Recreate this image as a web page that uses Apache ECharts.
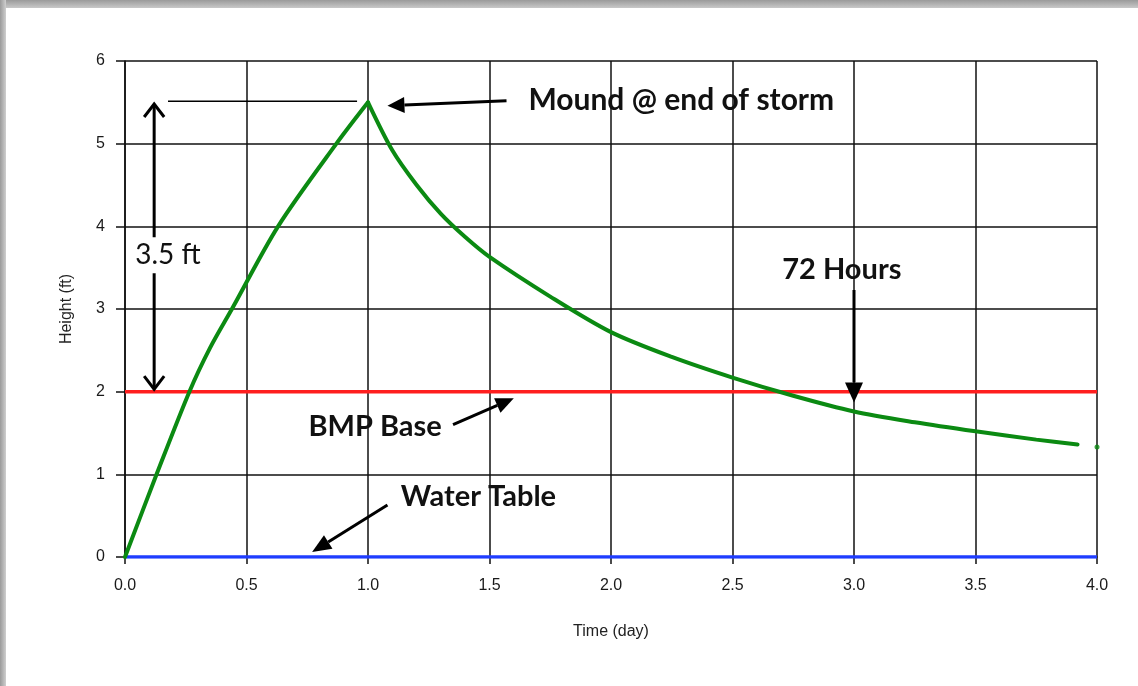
<!DOCTYPE html>
<html>
<head>
<meta charset="utf-8">
<script src="https://cdn.jsdelivr.net/npm/echarts@6/dist/echarts.min.js"></script>
<style>
html,body{margin:0;padding:0;background:#fff;}
#c{width:1138px;height:686px;}
</style>
</head>
<body>
<div id="c"></div>
<script>
// ---- data ----
const riseTime    = [0, 0.13, 0.265, 0.35, 0.44, 0.63, 0.87, 1.0];
const riseHeight  = [0, 1.0, 2.0, 2.53, 3.0, 4.0, 5.0, 5.5];
const decayTime   = [1.0, 1.1, 1.2, 1.3, 1.4, 1.5, 1.75, 2.0, 2.25, 2.5, 2.75, 3.0, 3.25, 3.5, 3.75, 3.92];
const decayHeight = [5.5, 4.92, 4.5, 4.15, 3.87, 3.63, 3.15, 2.72, 2.42, 2.17, 1.95, 1.76, 1.63, 1.52, 1.42, 1.36];
const endPoint = [4.0, 1.33];
const bmpBaseLevel = 2;
const waterTableLevel = 0;
const xTicks = [0, 0.5, 1.0, 1.5, 2.0, 2.5, 3.0, 3.5, 4.0];
const yTicks = [0, 1, 2, 3, 4, 5, 6];

const chart = echarts.init(document.getElementById('c'));
const axisFont = '"Liberation Sans", Arial, sans-serif';
const noteFont = 'Lato, "Open Sans", sans-serif';

const option = {
  animation: false,
  backgroundColor: '#fff',
  grid: {left: 125, right: 41, top: 61, bottom: 129},
  xAxis: {
    type: 'value', min: 0, max: 4, interval: 0.5,
    name: 'Time (day)', nameLocation: 'middle', nameGap: 67,
    nameTextStyle: {fontFamily: axisFont, fontSize: 16, color: '#222'},
    axisLine: {show: true, onZero: false, lineStyle: {color: '#111', width: 1.5}},
    axisTick: {show: true, length: 7, lineStyle: {color: '#111', width: 1.5}},
    axisLabel: {margin: 21, fontFamily: axisFont, fontSize: 16, color: '#1a1a1a',
                formatter: v => v.toFixed(1)},
    splitLine: {show: true, lineStyle: {color: '#111', width: 1.5}}
  },
  yAxis: {
    type: 'value', min: 0, max: 6, interval: 1,
    name: 'Height (ft)', nameLocation: 'middle', nameGap: 50, nameRotate: 90,
    nameTextStyle: {fontFamily: axisFont, fontSize: 16, color: '#222'},
    axisLine: {show: true, lineStyle: {color: '#111', width: 1.5}},
    axisTick: {show: true, length: 9, lineStyle: {color: '#111', width: 1.5}},
    axisLabel: {margin: 20, fontFamily: axisFont, fontSize: 16, color: '#1a1a1a'},
    splitLine: {show: true, lineStyle: {color: '#111', width: 1.5}}
  },
  series: [
    {type: 'line', name: 'Water Table', data: [[0, waterTableLevel], [4, waterTableLevel]],
     symbol: 'none', lineStyle: {color: '#1f3dff', width: 3.5}, z: 3},
    {type: 'line', name: 'BMP Base', data: [[0, bmpBaseLevel], [4, bmpBaseLevel]],
     symbol: 'none', lineStyle: {color: '#ff1e1e', width: 3.5}, z: 3},
    {type: 'line', name: 'Mound rise', data: riseTime.map((t, i) => [t, riseHeight[i]]),
     symbol: 'none', smooth: 0.3, lineStyle: {color: '#0b8a12', width: 4, cap: 'round'}, z: 4},
    {type: 'line', name: 'Mound decay', data: decayTime.map((t, i) => [t, decayHeight[i]]),
     symbol: 'none', smooth: 0.3, lineStyle: {color: '#0b8a12', width: 4, cap: 'round'}, z: 4},
    {type: 'scatter', data: [endPoint], symbolSize: 5,
     itemStyle: {color: '#0b8a12'}, z: 4}
  ]
};
chart.setOption(option);

function P(x, y) { return chart.convertToPixel({gridIndex: 0}, [x, y]); }

function filledArrow(from, to, head, width) {
  const [x1, y1] = from, [x2, y2] = to;
  const dx = x2 - x1, dy = y2 - y1, L = Math.hypot(dx, dy);
  const ux = dx / L, uy = dy / L, nx = -uy, ny = ux;
  const bx = x2 - ux * head, by = y2 - uy * head;
  return [
    {type: 'line', shape: {x1, y1, x2: bx, y2: by}, style: {stroke: '#000', lineWidth: 3}, z: 20},
    {type: 'polygon', shape: {points: [[x2, y2], [bx + nx * width, by + ny * width], [bx - nx * width, by - ny * width]]},
     style: {fill: '#000'}, z: 20}
  ];
}

function openHead(tip, dir) { // dir: -1 up, +1 down
  const [x, y] = tip;
  return {type: 'polyline', shape: {points: [[x - 10, y - dir * 13], [x, y], [x + 10, y - dir * 13]]},
          style: {stroke: '#000', lineWidth: 3, fill: null}, z: 20};
}

function buildGraphics() {
  const g = [];
  // frame shadow
  g.push({type: 'rect', shape: {x: 0, y: 0, width: 1138, height: 8},
    style: {fill: new echarts.graphic.LinearGradient(0, 0, 0, 1, [{offset: 0, color: '#9a9a9a'}, {offset: 1, color: '#c8c8c8'}])}, z: 30});
  g.push({type: 'rect', shape: {x: 0, y: 0, width: 6, height: 686},
    style: {fill: new echarts.graphic.LinearGradient(0, 0, 1, 0, [{offset: 0, color: '#9a9a9a'}, {offset: 1, color: '#cfcfcf'}])}, z: 31});

  // peak reference line
  const a = P(0.177, 5.5), b = P(0.955, 5.5);
  g.push({type: 'line', shape: {x1: a[0], y1: a[1] - 1, x2: b[0], y2: b[1] - 1}, style: {stroke: '#000', lineWidth: 1.5}, z: 20});

  // 3.5 ft double arrow
  const top = P(0.12, 5.48), bot = P(0.12, 2.03);
  g.push({type: 'line', shape: {x1: top[0], y1: top[1], x2: bot[0], y2: bot[1]}, style: {stroke: '#000', lineWidth: 3}, z: 20});
  g.push(openHead(top, -1));
  g.push(openHead(bot, 1));
  const t35 = P(0.05, 3.65);
  g.push({type: 'text', x: t35[0] - 5, y: t35[1], z: 22,
    style: {text: '3.5 ft', font: '28px ' + noteFont, fill: '#111', textVerticalAlign: 'middle',
            backgroundColor: '#fff', padding: [4, 2, 4, 3]}});

  // Mound @ end of storm
  g.push(...filledArrow(P(1.57, 5.52), P(1.08, 5.46), 17, 8));
  const tm = P(1.66, 5.53);
  g.push({type: 'text', x: tm[0], y: tm[1], z: 22,
    style: {text: 'Mound @ end of storm', font: 'bold 30px ' + noteFont, fill: '#111', textVerticalAlign: 'middle'}});

  // 72 Hours
  g.push(...filledArrow(P(3.0, 3.23), P(3.0, 1.87), 20, 9));
  const th = P(2.95, 3.48);
  g.push({type: 'text', x: th[0], y: th[1], z: 22,
    style: {text: '72 Hours', font: 'bold 29px ' + noteFont, fill: '#111', textVerticalAlign: 'middle', textAlign: 'center'}});

  // BMP Base
  g.push(...filledArrow(P(1.35, 1.6), P(1.6, 1.92), 18, 8));
  const tb = P(0.755, 1.575);
  g.push({type: 'text', x: tb[0], y: tb[1], z: 22,
    style: {text: 'BMP Base', font: 'bold 29px ' + noteFont, fill: '#111', textVerticalAlign: 'middle'}});

  // Water Table
  g.push(...filledArrow(P(1.08, 0.63), P(0.77, 0.06), 19, 8));
  const tw = P(1.135, 0.73);
  g.push({type: 'text', x: tw[0], y: tw[1], z: 22,
    style: {text: 'Water Table', font: 'bold 29px ' + noteFont, fill: '#111', textVerticalAlign: 'middle'}});
  return g;
}

chart.setOption({graphic: buildGraphics()});
</script>
</body>
</html>
